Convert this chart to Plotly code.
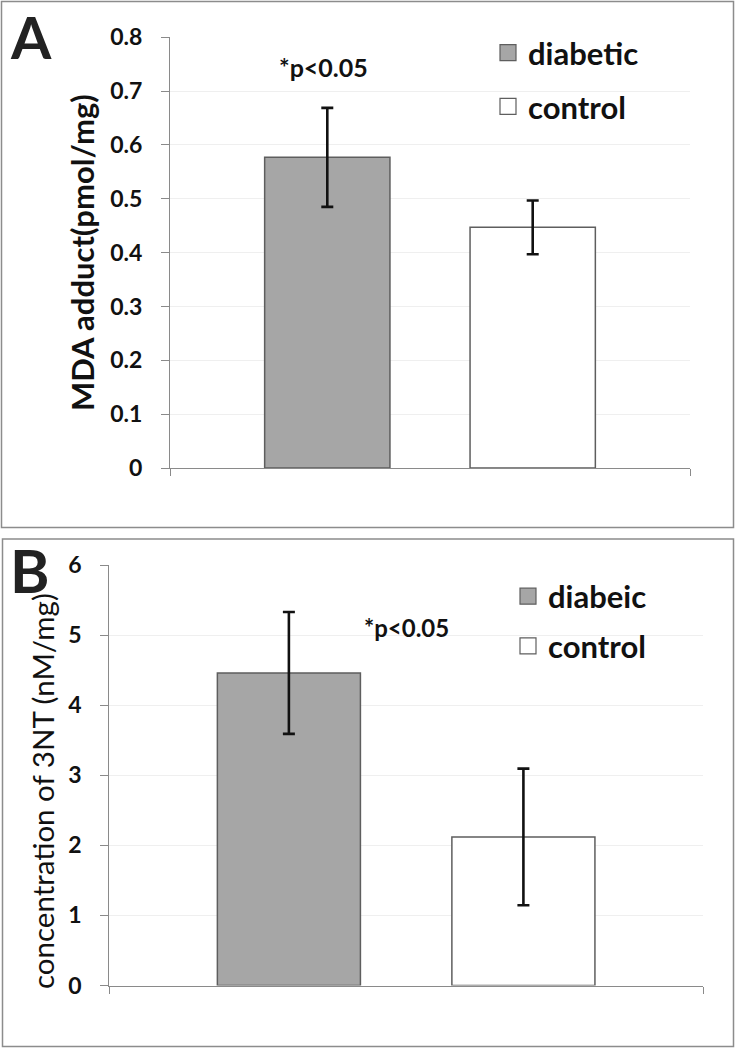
import plotly.graph_objects as go

W, H = 735, 1048

# ---------------- data ----------------
groups = ["diabetic", "control"]
legend_a = ["diabetic", "control"]
legend_b = ["diabeic", "control"]

mda_mean = [0.577, 0.447]
mda_err = [0.092, 0.050]

nt_mean = [4.46, 2.12]
nt_err = [0.87, 0.975]

ticks_a = [0, 0.1, 0.2, 0.3, 0.4, 0.5, 0.6, 0.7, 0.8]
ticklabels_a = ["0", "0.1", "0.2", "0.3", "0.4", "0.5", "0.6", "0.7", "0.8"]
ticks_b = [0, 1, 2, 3, 4, 5, 6]
ticklabels_b = ["0", "1", "2", "3", "4", "5", "6"]

title_a = "MDA adduct(pmol/mg)"
title_b = "concentration of 3NT (nM/mg)"

fills = ["#a6a6a6", "#ffffff"]
edge = "#5e5e5e"
FONT = "Lato"


def px(x):
    return x / W


def py(y):
    return 1 - y / H


fig = go.Figure()

# panel A bars
for i, g in enumerate(groups):
    fig.add_trace(go.Bar(
        x=["MDA"], y=[mda_mean[i]], name=legend_a[i],
        marker=dict(color=fills[i], line=dict(color=edge, width=1.5)),
        error_y=dict(type="data", array=[mda_err[i]], color="#111111", thickness=2.6, width=6),
        xaxis="x", yaxis="y", showlegend=False,
    ))
# panel B bars
for i, g in enumerate(groups):
    fig.add_trace(go.Bar(
        x=["3NT"], y=[nt_mean[i]], name=legend_b[i],
        marker=dict(color=fills[i], line=dict(color=edge, width=1.5)),
        error_y=dict(type="data", array=[nt_err[i]], color="#111111", thickness=2.6, width=6),
        xaxis="x2", yaxis="y2", showlegend=False,
    ))

# legend entries (square swatches)
for i in range(2):
    fig.add_trace(go.Scatter(
        x=[None], y=[None], mode="markers", name=legend_a[i],
        marker=dict(symbol="square", size=16, color=fills[i], line=dict(color=edge, width=1.2)),
        xaxis="x", yaxis="y", legend="legend", legendgroup="a%d" % i,
    ))
for i in range(2):
    fig.add_trace(go.Scatter(
        x=[None], y=[None], mode="markers", name=legend_b[i],
        marker=dict(symbol="square", size=16, color=fills[i], line=dict(color=edge, width=1.2)),
        xaxis="x2", yaxis="y2", legend="legend2", legendgroup="b%d" % i,
    ))

axis_gray = "#8a8a8a"
grid = "#efefef"
tickfont = dict(family=FONT, size=23, color="#111111", weight="bold")

xa_common = dict(
    range=[-0.5, 0.5], showticklabels=False, showline=True, linecolor=axis_gray, linewidth=1.2,
    ticks="outside", tickson="boundaries", ticklen=7, tickcolor=axis_gray, showgrid=False,
    zeroline=False, fixedrange=True, automargin=False,
)
ya_common = dict(
    showline=True, linecolor=axis_gray, linewidth=1.2, ticks="outside", ticklen=8,
    tickcolor=axis_gray, showgrid=True, gridcolor=grid, gridwidth=1, zeroline=False,
    tickfont=tickfont, ticklabelstandoff=14, fixedrange=True, automargin=False,
)

fig.update_layout(
    width=W, height=H, margin=dict(l=0, r=0, t=0, b=0, autoexpand=False),
    paper_bgcolor="white", plot_bgcolor="white",
    barmode="group", bargap=0.21, bargroupgap=0.39,
    font=dict(family=FONT, color="#111111"),
    xaxis=dict(domain=[px(170), px(690)], anchor="y", **xa_common),
    yaxis=dict(domain=[py(468), py(37.3)], anchor="x", range=[0, 0.8],
               tickvals=ticks_a, ticktext=ticklabels_a,
               title=dict(text=title_a, standoff=6,
                          font=dict(family=FONT, size=31, color="#111111", weight="bold")),
               **ya_common),
    xaxis2=dict(domain=[px(109.3), px(703)], anchor="y2", **xa_common),
    yaxis2=dict(domain=[py(985.5), py(565)], anchor="x2", range=[0, 6],
                tickvals=ticks_b, ticktext=ticklabels_b,
                **ya_common),
    legend=dict(x=px(488), y=py(26), xanchor="left", yanchor="top",
                font=dict(family=FONT, size=31, color="#111111", weight="bold"),
                bgcolor="rgba(0,0,0,0)", tracegroupgap=10.5, itemwidth=30),
    legend2=dict(x=px(508), y=py(569.5), xanchor="left", yanchor="top",
                 font=dict(family=FONT, size=31, color="#111111", weight="bold"),
                 bgcolor="rgba(0,0,0,0)", tracegroupgap=6.5, itemwidth=30),
    shapes=[
        dict(type="rect", xref="paper", yref="paper", x0=px(1.5), x1=px(733.5),
             y0=py(527.5), y1=py(1.5), line=dict(color="#8c8c8c", width=1.5)),
        dict(type="rect", xref="paper", yref="paper", x0=px(2.5), x1=px(733.5),
             y0=py(1046.5), y1=py(539), line=dict(color="#8c8c8c", width=1.5)),
    ],
    annotations=[
        dict(text="A", xref="paper", yref="paper", x=px(31), y=py(0.5), showarrow=False,
             xanchor="center", yanchor="top",
             font=dict(family=FONT, size=58, color="#222222", weight="bold")),
        dict(text="B", xref="paper", yref="paper", x=px(30), y=py(570), showarrow=False,
             xanchor="center", yanchor="middle",
             font=dict(family=FONT, size=60, color="#222222", weight="bold")),
        dict(text=title_b, xref="paper", yref="paper", x=px(42), y=py(791), showarrow=False,
             textangle=-90, xanchor="center", yanchor="middle",
             font=dict(family=FONT, size=29.5, color="#111111")),
        dict(text="*p<0.05", xref="paper", yref="paper", x=px(323), y=py(67), showarrow=False,
             xanchor="center", yanchor="middle",
             font=dict(family=FONT, size=25, color="#111111", weight="bold")),
        dict(text="*p<0.05", xref="paper", yref="paper", x=px(406.5), y=py(627), showarrow=False,
             xanchor="center", yanchor="middle",
             font=dict(family=FONT, size=24, color="#111111", weight="bold")),
    ],
)

fig.write_html("out.html", config={"displayModeBar": False},
               post_script="document.body.style.margin='0px';")
